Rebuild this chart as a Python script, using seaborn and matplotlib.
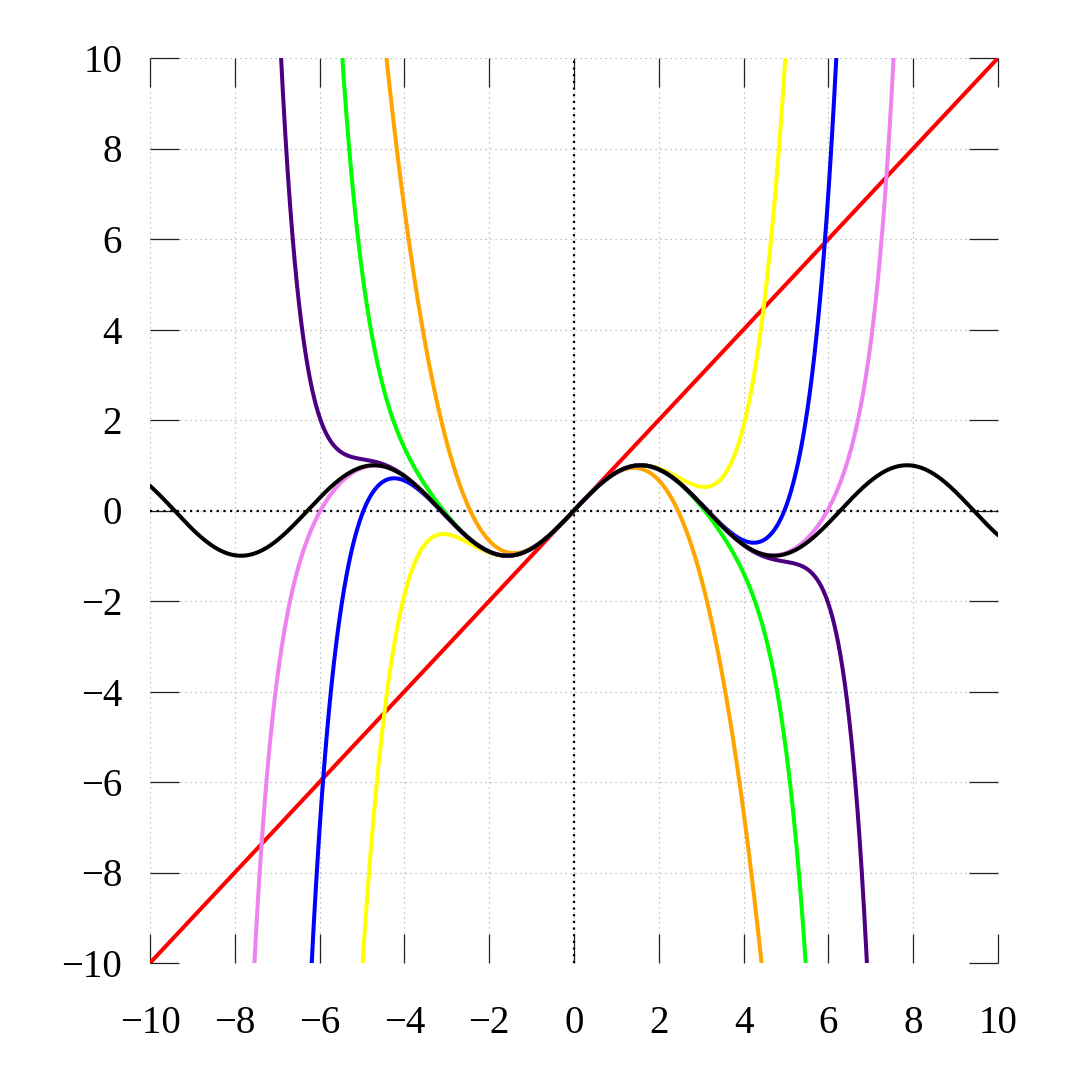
import numpy as np
import pandas as pd
import matplotlib
matplotlib.use("Agg")
import matplotlib.pyplot as plt
import seaborn as sns

# Taylor polynomials of sin(x): coefficients of odd powers
degrees = [1, 3, 5, 7, 9, 11, 13]
odd_coeffs = [1.0, -1/6, 1/120, -1/5040, 1/362880, -1/39916800, 1/6227020800]
colors = ["#ff0000", "#ffa500", "#ffff00", "#00ff00", "#0000ff", "#4b0082", "#ee82ee"]
sin_color = "#000000"
ticks = [-10, -8, -6, -4, -2, 0, 2, 4, 6, 8, 10]

x = np.linspace(-10, 10, 4001)

sns.set_theme(style="white")
plt.rcParams['font.family'] = ['Liberation Serif', 'DejaVu Serif']
plt.rcParams['axes.unicode_minus'] = True

fig = plt.figure(figsize=(10.8, 10.8), dpi=100)
ax = fig.add_axes([150/1080, 1 - 963/1080, (998-150)/1080, (963-58)/1080])

frames = []
for i, (deg, col) in enumerate(zip(degrees, colors)):
    y = np.zeros_like(x)
    for k in range(i + 1):
        y = y + odd_coeffs[k] * x ** (2 * k + 1)
    frames.append(pd.DataFrame({"x": x, "y": y, "deg": f"T{deg}"}))
frames.append(pd.DataFrame({"x": x, "y": np.sin(x), "deg": "sin"}))
df = pd.concat(frames, ignore_index=True)

ax.grid(True, linestyle=(0, (1, 3)), color="#b0b0b0", linewidth=0.9)
ax.axhline(0, color="black", linestyle=(0, (1, 2)), linewidth=1.6, zorder=1)
ax.axvline(0, color="black", linestyle=(0, (1, 2)), linewidth=1.6, zorder=1)

palette = {f"T{d}": c for d, c in zip(degrees, colors)}
palette["sin"] = sin_color
sns.lineplot(data=df, x="x", y="y", hue="deg", palette=palette, linewidth=2.9,
             legend=False, ax=ax, sort=False, estimator=None, zorder=3)

ax.set_xlim(-10, 10)
ax.set_ylim(-10, 10)
ax.set_xticks(ticks)
ax.set_yticks(ticks)
ax.set_xlabel("")
ax.set_ylabel("")
for s in ax.spines.values():
    s.set_visible(False)
ax.tick_params(axis="both", direction="in", length=21, width=0.9, color="#222222",
               top=True, right=True, bottom=True, left=True, labelsize=28, labelcolor="black")
ax.tick_params(axis="x", pad=30)
ax.tick_params(axis="y", pad=20)

fig.savefig("out.png", dpi=100)
